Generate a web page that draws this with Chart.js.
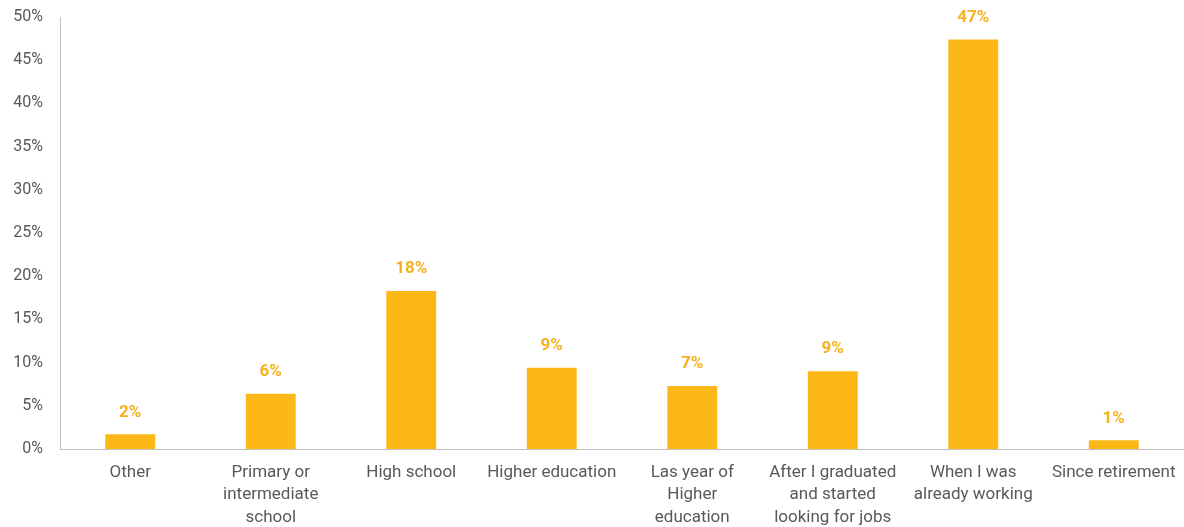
<!DOCTYPE html>
<html>
<head>
<meta charset="utf-8">
<script src="https://cdn.jsdelivr.net/npm/chart.js@4.4.1/dist/chart.umd.min.js"></script>
<style>
  html, body { margin: 0; padding: 0; background: #fff; }
  #wrap { width: 1184px; height: 527px; position: relative; }
</style>
</head>
<body>
<div id="wrap"><canvas id="chart"></canvas></div>
<script>
const categories = [
  "Other",
  ["Primary or", "intermediate", "school"],
  "High school",
  "Higher education",
  ["Las year of", "Higher", "education"],
  ["After I graduated", "and started", "looking for jobs"],
  ["When I was", "already working"],
  "Since retirement"
];
const shares = [1.7, 6.4, 18.3, 9.4, 7.3, 9.0, 47.4, 1.0];
const yTicks = [0, 5, 10, 15, 20, 25, 30, 35, 40, 45, 50];

const barColor = "#FCB817";
const labelColor = "#F5B21E";
const textColor = "#595959";
const axisColor = "#BFBFBF";

// value labels above each bar
const valueLabels = {
  id: "valueLabels",
  afterDatasetsDraw(chart) {
    const ctx = chart.ctx;
    const meta = chart.getDatasetMeta(0);
    ctx.save();
    ctx.font = "bold 17px Roboto";
    ctx.fillStyle = labelColor;
    ctx.textAlign = "center";
    ctx.textBaseline = "middle";
    meta.data.forEach((bar, i) => {
      ctx.fillText(Math.round(shares[i]) + "%", bar.x, bar.y - 22);
    });
    ctx.restore();
  }
};

new Chart(document.getElementById("chart").getContext("2d"), {
  type: "bar",
  data: {
    labels: categories,
    datasets: [{
      data: shares,
      backgroundColor: barColor,
      borderWidth: 0,
      barPercentage: 0.5,
      categoryPercentage: 0.71
    }]
  },
  options: {
    responsive: true,
    maintainAspectRatio: false,
    animation: false,
    layout: { padding: { top: 17, right: -4, left: 0, bottom: 0 } },
    plugins: {
      legend: { display: false },
      tooltip: { enabled: false }
    },
    scales: {
      x: {
        afterFit(scale) {
          scale.height = 78;
          scale.paddingLeft = 0;
          scale.paddingRight = 0;
        },
        grid: { display: false, drawTicks: false },
        border: { color: axisColor, width: 1 },
        ticks: {
          color: textColor,
          font: { family: "Roboto", size: 17, lineHeight: 1.3 },
          padding: 13,
          maxRotation: 0,
          autoSkip: false
        }
      },
      y: {
        min: 0,
        max: 50,
        afterBuildTicks(scale) {
          scale.ticks = yTicks.map(v => ({ value: v }));
        },
        afterFit(scale) {
          scale.width = 60;
          scale.paddingTop = 0;
          scale.paddingBottom = 0;
        },
        grid: { display: false, drawTicks: false },
        border: { color: axisColor, width: 1 },
        ticks: {
          color: textColor,
          font: { family: "Roboto", size: 16 },
          padding: 17,
          callback: v => v + "%"
        }
      }
    }
  },
  plugins: [valueLabels]
});
</script>
</body>
</html>
